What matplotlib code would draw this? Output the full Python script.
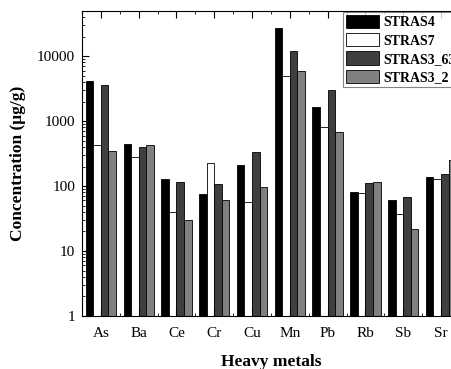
import numpy as np
import matplotlib
matplotlib.use('Agg')
import matplotlib.pyplot as plt
from matplotlib.ticker import FixedLocator, LogLocator, NullFormatter

plt.rcParams['font.family'] = ['Liberation Serif', 'DejaVu Serif']

# Data (concentration, ug/g)
metals = ['As', 'Ba', 'Ce', 'Cr', 'Cu', 'Mn', 'Pb', 'Rb', 'Sb', 'Sr']
stras4 = [4170, 443, 127, 74.5, 210, 26700, 1660, 81, 61, 137]
stras7 = [423, 276, 40, 223, 56, 4920, 817, 77, 37.5, 128]
stras3_63 = [3540, 402, 117, 109, 337, 11900, 3000, 111, 67, 151]
stras3_2 = [349, 432, 29.7, 60, 96.6, 5810, 685, 114, 21.5, 251]

series = [
    ('STRAS4', stras4, '#000000'),
    ('STRAS7', stras7, '#ffffff'),
    ('STRAS3_63', stras3_63, '#3f3f3f'),
    ('STRAS3_2', stras3_2, '#808080'),
]

fig = plt.figure(figsize=(4.52, 3.69), dpi=100)
ax = fig.add_axes([0.1814, 0.1436, 0.836, 0.8274])

x = np.arange(len(metals))
width = 0.2
for i, (name, vals, color) in enumerate(series):
    ax.bar(x + (i - 1.5) * width, vals, width, color=color,
           edgecolor='black', linewidth=0.6, label=name)

ax.set_yscale('log')
ax.set_ylim(1, 50000)
ax.set_xlim(-0.5, len(metals) - 0.5)

ax.set_yticks([1, 10, 100, 1000, 10000])
ax.set_yticklabels(['1', '10', '100', '1000', '10000'])
ax.yaxis.set_minor_locator(LogLocator(base=10, subs=np.arange(2, 10)))
ax.yaxis.set_minor_formatter(NullFormatter())

ax.set_xticks(x)
ax.set_xticklabels(metals)
ax.xaxis.set_minor_locator(FixedLocator(x[:-1] + 0.5))

ax.tick_params(which='both', direction='in', top=True, labelsize=11)
ax.tick_params(which='major', length=5, width=0.8)
ax.tick_params(which='minor', length=2.5, width=0.6)
ax.tick_params(axis='x', pad=8)
ax.tick_params(axis='y', pad=5)

ax.set_xlabel('Heavy metals', fontsize=12.5, fontweight='bold', labelpad=10)
ax.set_ylabel('Concentration (\u03bcg/g)', fontsize=12.5, fontweight='bold', labelpad=8)

leg = ax.legend(loc='upper right', prop={'weight': 'bold', 'size': 10},
                frameon=True, fancybox=False, borderaxespad=0.1,
                handlelength=2.4, handleheight=1.1, labelspacing=0.28,
                handletextpad=0.3, borderpad=0.2)
leg.get_frame().set_edgecolor('#666666')
leg.get_frame().set_linewidth(0.8)

fig.savefig('out.png', dpi=100)
